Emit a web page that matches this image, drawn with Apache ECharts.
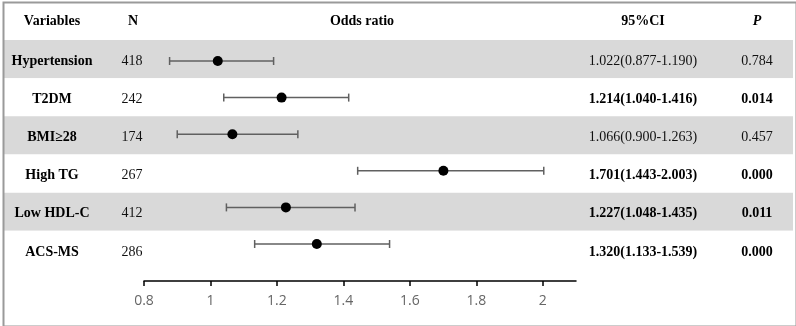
<!DOCTYPE html>
<html>
<head>
<meta charset="utf-8">
<script src="https://cdn.jsdelivr.net/npm/echarts@6/dist/echarts.min.js"></script>
<style>
  html, body { margin: 0; padding: 0; background: #fff; }
  #main { width: 796px; height: 326px; }
</style>
</head>
<body>
<div id="main"></div>
<script>
// table rows
const variables = ['Hypertension', 'T2DM', 'BMI≥28', 'High TG', 'Low HDL-C', 'ACS-MS'];
const counts = [418, 242, 174, 267, 412, 286];
const oddsRatio = [1.022, 1.214, 1.066, 1.701, 1.227, 1.320];
const ciLower = [0.877, 1.040, 0.900, 1.443, 1.048, 1.133];
const ciUpper = [1.190, 1.416, 1.263, 2.003, 1.435, 1.539];
const pValues = ['0.784', '0.014', '0.457', '0.000', '0.011', '0.000'];
const xTicks = [0.8, 1, 1.2, 1.4, 1.6, 1.8, 2];
const headers = ['Variables', 'N', 'Odds ratio', '95%CI', 'P'];

const serif = '"Liberation Serif", "Times New Roman", serif';
const ciText = oddsRatio.map((v, i) => v.toFixed(3) + '(' + ciLower[i].toFixed(3) + '-' + ciUpper[i].toFixed(3) + ')');
const signif = pValues.map(p => parseFloat(p) < 0.05);

const chart = echarts.init(document.getElementById('main'));

// text column placed on the band grid
function textAxis(data, x, boldRule) {
    return {
        type: 'category', gridIndex: 0, data: data, inverse: true,
        position: 'left', offset: -(x - 3),
        axisLine: { show: false }, axisTick: { show: false }, splitLine: { show: false },
        axisLabel: {
            margin: 0, align: 'center',
            formatter: function (v, i) {
                return (boldRule(i) ? '{b|' : '{n|') + v + '}';
            },
            rich: {
                b: { fontFamily: serif, fontSize: 14, fontWeight: 'bold', color: '#000', padding: [4, 0, 0, 0] },
                n: { fontFamily: serif, fontSize: 14, color: '#111', padding: [4, 0, 0, 0] }
            }
        }
    };
}

const headerX = [52, 133, 362, 643, 757];
const titles = headers.map((h, i) => ({
    text: h, left: headerX[i], top: 14, textAlign: 'center', padding: 0,
    textStyle: { fontFamily: serif, fontSize: 14, fontWeight: 'bold', color: '#000', fontStyle: h === 'P' ? 'italic' : 'normal' }
}));

const option = {
    animation: false,
    backgroundColor: '#fff',
    title: titles,
    grid: [
        { left: 3, right: 3, top: 40, height: 229 },
        { left: 144, right: 220, top: 42.7, height: 219.6 }
    ],
    xAxis: [
        { type: 'value', gridIndex: 0, show: false },
        {
            type: 'value', gridIndex: 1, min: 0.8, max: 2.1, interval: 0.2,
            position: 'bottom', offset: 18.7,
            axisLine: { show: true, onZero: false, lineStyle: { color: '#000', width: 1.5 } },
            axisTick: { show: true, length: 5, inside: false, customValues: xTicks, lineStyle: { color: '#000', width: 1.5 } },
            axisLabel: { customValues: xTicks, margin: 13, color: '#666', fontSize: 14, fontFamily: '"Open Sans", "Liberation Sans", sans-serif' },
            splitLine: { show: false }
        }
    ],
    yAxis: [
        {
            type: 'category', gridIndex: 0, data: variables, inverse: true,
            axisLine: { show: false }, axisTick: { show: false }, axisLabel: { show: false },
            splitArea: { show: true, areaStyle: { color: ['#d9d9d9', '#ffffff'] } }
        },
        {
            type: 'category', gridIndex: 1, data: variables, inverse: true,
            axisLine: { show: false }, axisTick: { show: false }, axisLabel: { show: false }
        },
        textAxis(variables, 52, () => true),
        textAxis(counts, 132, () => false),
        textAxis(ciText, 643, i => signif[i]),
        textAxis(pValues, 757, i => signif[i])
    ],
    series: [
        {
            type: 'custom', xAxisIndex: 1, yAxisIndex: 1,
            data: ciLower.map((lo, i) => [lo, ciUpper[i], i]),
            encode: { x: [0, 1], y: 2 },
            renderItem: function (params, api) {
                const a = api.coord([api.value(0), api.value(2)]);
                const b = api.coord([api.value(1), api.value(2)]);
                const st = { stroke: '#606060', lineWidth: 1.5 };
                return {
                    type: 'group',
                    children: [
                        { type: 'line', shape: { x1: a[0], y1: a[1], x2: b[0], y2: b[1] }, style: st },
                        { type: 'line', shape: { x1: a[0], y1: a[1] - 4, x2: a[0], y2: a[1] + 4 }, style: st },
                        { type: 'line', shape: { x1: b[0], y1: b[1] - 4, x2: b[0], y2: b[1] + 4 }, style: st }
                    ]
                };
            },
            z: 2
        },
        {
            type: 'scatter', xAxisIndex: 1, yAxisIndex: 1,
            data: oddsRatio.map((v, i) => [v, i]),
            symbolSize: 10,
            itemStyle: { color: '#000', opacity: 1 },
            z: 3
        }
    ],
    graphic: [
        {
            type: 'rect', left: 1, top: 0, z: 100,
            shape: { width: 793, height: 324 },
            style: { fill: 'none', stroke: '#9a9a9a', lineWidth: 2 }
        }
    ]
};

chart.setOption(option);
</script>
</body>
</html>
